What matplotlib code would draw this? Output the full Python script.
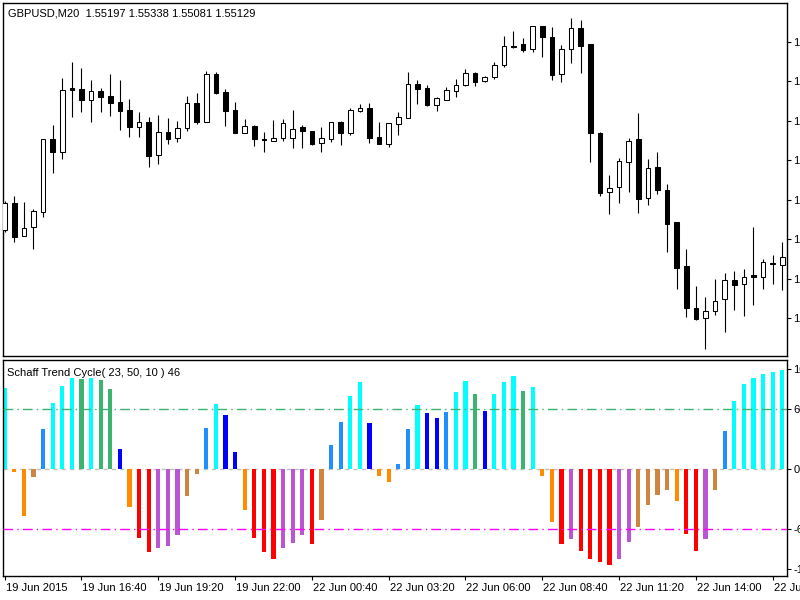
import matplotlib
matplotlib.use("Agg")
import matplotlib.pyplot as plt
import matplotlib.transforms as mtransforms
import numpy as np

plt.rcParams['font.family'] = ['Liberation Sans', 'DejaVu Sans']

# ---------------- data ----------------
symbol_text = "GBPUSD,M20  1.55197 1.55338 1.55081 1.55129"
indicator_text = "Schaff Trend Cycle( 23, 50, 10 ) 46"

opens = [1.55399, 1.55542, 1.55367, 1.55415, 1.55495, 1.55883, 1.55814, 1.56155, 1.56150, 1.56091,
         1.56139, 1.56112, 1.56080, 1.56038, 1.55947, 1.55974, 1.55798, 1.55921, 1.55889, 1.55942,
         1.56075, 1.55974, 1.56230, 1.56134, 1.56038, 1.55915, 1.55953, 1.55883, 1.55873, 1.55889,
         1.55889, 1.55947, 1.55926, 1.55862, 1.55883, 1.55974, 1.55915, 1.56032, 1.56048, 1.55894,
         1.55857, 1.55963, 1.55995, 1.56176, 1.56155, 1.56064, 1.56091, 1.56139, 1.56171, 1.56235,
         1.56192, 1.56214, 1.56277, 1.56379, 1.56389, 1.56363, 1.56485, 1.56427, 1.56230, 1.56363,
         1.56475, 1.56389, 1.55915, 1.55601, 1.55628, 1.55761, 1.55883, 1.55569, 1.55734, 1.55612,
         1.55441, 1.55207, 1.54983, 1.54930, 1.54967, 1.55031, 1.55132, 1.55111, 1.55159, 1.55148,
         1.55218, 1.55212]
highs = [1.55553, 1.55580, 1.55548, 1.55511, 1.55884, 1.55958, 1.56208, 1.56294, 1.56262, 1.56198,
         1.56155, 1.56230, 1.56198, 1.56096, 1.56027, 1.56001, 1.56011, 1.55995, 1.55979, 1.56112,
         1.56128, 1.56246, 1.56240, 1.56150, 1.56080, 1.55990, 1.55958, 1.55921, 1.55985, 1.55990,
         1.56038, 1.55958, 1.55927, 1.55947, 1.55975, 1.55979, 1.56048, 1.56070, 1.56075, 1.55974,
         1.55970, 1.56027, 1.56240, 1.56198, 1.56171, 1.56107, 1.56160, 1.56203, 1.56256, 1.56240,
         1.56219, 1.56294, 1.56432, 1.56459, 1.56421, 1.56486, 1.56486, 1.56480, 1.56384, 1.56528,
         1.56517, 1.56390, 1.55921, 1.55692, 1.55782, 1.55889, 1.56022, 1.55777, 1.55814, 1.55644,
         1.55442, 1.55298, 1.55100, 1.55042, 1.55138, 1.55170, 1.55180, 1.55191, 1.55415, 1.55244,
         1.55266, 1.55335]
lows = [1.55388, 1.55335, 1.55365, 1.55298, 1.55468, 1.55702, 1.55777, 1.56001, 1.56027, 1.55974,
        1.56027, 1.56006, 1.55931, 1.55894, 1.55894, 1.55734, 1.55750, 1.55857, 1.55867, 1.55926,
        1.55963, 1.55972, 1.56123, 1.55953, 1.55913, 1.55913, 1.55846, 1.55814, 1.55871, 1.55873,
        1.55835, 1.55835, 1.55851, 1.55814, 1.55867, 1.55851, 1.55905, 1.56027, 1.55862, 1.55856,
        1.55841, 1.55905, 1.55994, 1.56070, 1.56059, 1.56032, 1.56090, 1.56107, 1.56166, 1.56166,
        1.56187, 1.56203, 1.56268, 1.56368, 1.56347, 1.56347, 1.56320, 1.56198, 1.56187, 1.56288,
        1.56235, 1.55761, 1.55580, 1.55484, 1.55542, 1.55601, 1.55489, 1.55532, 1.55590, 1.55282,
        1.55085, 1.54935, 1.54919, 1.54765, 1.54946, 1.54855, 1.54973, 1.54941, 1.54999, 1.55085,
        1.55111, 1.55079]
closes = [1.55542, 1.55361, 1.55409, 1.55500, 1.55883, 1.55814, 1.56144, 1.56144, 1.56091, 1.56139,
          1.56107, 1.56075, 1.56032, 1.55947, 1.55974, 1.55793, 1.55921, 1.55883, 1.55942, 1.56075,
          1.55974, 1.56230, 1.56128, 1.56032, 1.55915, 1.55953, 1.55883, 1.55878, 1.55889, 1.55969,
          1.55937, 1.55926, 1.55857, 1.55889, 1.55974, 1.55915, 1.56038, 1.56048, 1.55889, 1.55857,
          1.55969, 1.56001, 1.56176, 1.56150, 1.56064, 1.56102, 1.56144, 1.56171, 1.56235, 1.56187,
          1.56214, 1.56277, 1.56379, 1.56373, 1.56357, 1.56485, 1.56427, 1.56224, 1.56363, 1.56475,
          1.56379, 1.55915, 1.55596, 1.55622, 1.55766, 1.55873, 1.55564, 1.55729, 1.55612, 1.55431,
          1.55196, 1.54983, 1.54925, 1.54967, 1.55021, 1.55132, 1.55106, 1.55148, 1.55148, 1.55228,
          1.55223, 1.55255]

stc_values = [81, -3, -46.3, -8, 40, 66.7, 83.3, 91.7, 90.3, 91.7,
              89.3, 80, 20, -38, -68.3, -83, -79, -76.7, -65.7, -26.3,
              -4.3, 41, 65.3, 54.3, 17, -40.7, -68.3, -83, -90, -79,
              -73.3, -65.7, -74.3, -50.3, 24.3, 47.3, 73.7, 87, 46.3, -6.7,
              -13, 5, 40, 64.3, 56, 51, 57, 77.3, 88, 75,
              58.3, 75.3, 87, 93.3, 78.7, 82.3, -6.7, -52.7, -75, -69.3,
              -81.3, -90, -93, -95.7, -89.7, -73, -57.3, -35.7, -26, -20.7,
              -32, -64.7, -81.7, -69.3, -21, 38.7, 68.7, 85, 91.7, 95.3,
              97.7, 99]
stc_states = ["cyan", "orange", "orange", "peru", "dodger", "cyan", "cyan", "cyan", "green", "cyan",
              "green", "green", "blue", "orange", "red", "red", "purple", "purple", "purple", "peru",
              "peru", "dodger", "cyan", "blue", "blue", "orange", "red", "red", "red", "purple",
              "purple", "purple", "red", "peru", "dodger", "dodger", "cyan", "cyan", "blue", "orange",
              "orange", "dodger", "dodger", "cyan", "blue", "blue", "dodger", "cyan", "cyan", "green",
              "blue", "cyan", "cyan", "cyan", "green", "cyan", "orange", "orange", "red", "purple",
              "red", "red", "red", "red", "purple", "purple", "peru", "peru", "peru", "peru",
              "orange", "red", "red", "purple", "peru", "dodger", "cyan", "cyan", "cyan", "cyan",
              "cyan", "cyan"]
state_colors = {"cyan": "#00FFFF", "dodger": "#1E90FF", "blue": "#0000FF", "green": "#3CB371",
                "orange": "#FF8C00", "peru": "#CD853F", "red": "#FF0000", "purple": "#BA55D3"}

x_tick_bars = [0, 8, 16, 24, 32, 40, 48, 56, 64, 72, 80]
x_tick_labels = ["19 Jun 2015", "19 Jun 16:40", "19 Jun 19:20", "19 Jun 22:00", "22 Jun 00:40",
                 "22 Jun 03:20", "22 Jun 06:00", "22 Jun 08:40", "22 Jun 11:20", "22 Jun 14:00",
                 "22 Jun 16:40"]
price_ticks = [1.5493, 1.5514, 1.5535, 1.5556, 1.5577, 1.5598, 1.5619, 1.5640]
stc_ticks = [100, 60, 0, -60, -100]
stc_tick_labels = ["100", "60", "0", "-60", "-100"]
upper_level = 60
lower_level = -60

# ---------------- figure ----------------
W, H = 800, 600
fig = plt.figure(figsize=(8, 6), dpi=100)
fig.patch.set_facecolor("white")

ax = fig.add_axes([3 / W, (H - 356) / H, 784 / W, 353 / H])
ax2 = fig.add_axes([3 / W, (H - 576) / H, 784 / W, 216 / H])

x = np.arange(len(opens))
o = np.array(opens); c = np.array(closes)
hi = np.array(highs); lo = np.array(lows)

# wicks
ax.vlines(x, lo, hi, color="black", linewidth=0.8, zorder=2)
# bodies
bull = c >= o
faces = ["white" if b else "black" for b in bull]
ax.bar(x, np.abs(c - o), bottom=np.minimum(o, c), width=0.46, color=faces,
       edgecolor="black", linewidth=0.75, zorder=3)

ax.set_xlim(-0.177, 81.49)
ax.set_ylim(1.54728, 1.56608)
ax.set_xticks([])
ax.yaxis.tick_right()
ax.set_yticks(price_ticks)
ax.set_yticklabels(["%.5f" % p for p in price_ticks])
ax.tick_params(axis="y", direction="out", length=3, width=0.8, pad=1.5, labelsize=8, colors="black")
for s in ax.spines.values():
    s.set_color("black"); s.set_linewidth(1)

# ---------------- indicator ----------------
ax2.axhline(0, color="#C0C0C0", linewidth=1, linestyle=(0, (3, 3)), zorder=1)
ax2.bar(x, stc_values, width=0.44, color=[state_colors[s] for s in stc_states], linewidth=0, zorder=2)
ax2.axhline(upper_level, color="#3CB371", linewidth=1, linestyle=(0, (7, 3, 1, 3)), zorder=3)
ax2.axhline(lower_level, color="#FF00FF", linewidth=1, linestyle=(0, (7, 3, 1, 3)), zorder=3)

ax2.set_xlim(-0.177, 81.49)
ax2.set_ylim(-106.7, 109.3)
ax2.yaxis.tick_right()
ax2.set_yticks(stc_ticks)
ax2.set_yticklabels(stc_tick_labels)
ax2.tick_params(axis="y", direction="out", length=3, width=0.8, pad=1.5, labelsize=8)
ax2.set_xticks(x_tick_bars)
ax2.set_xticklabels(x_tick_labels)
ax2.tick_params(axis="x", direction="out", length=3, width=0.8, pad=1.8, labelsize=8)
offset = mtransforms.ScaledTranslation(1 / 100, 0, fig.dpi_scale_trans)
for lbl in ax2.get_xticklabels():
    lbl.set_ha("left")
    lbl.set_transform(lbl.get_transform() + offset)
for s in ax2.spines.values():
    s.set_color("black"); s.set_linewidth(1)

fig.text(8 / W, 1 - 16 / H, symbol_text, fontsize=8, va="baseline", ha="left")
fig.text(7 / W, 1 - 375.5 / H, indicator_text, fontsize=8, va="baseline", ha="left")

fig.savefig("out.png", dpi=100)
